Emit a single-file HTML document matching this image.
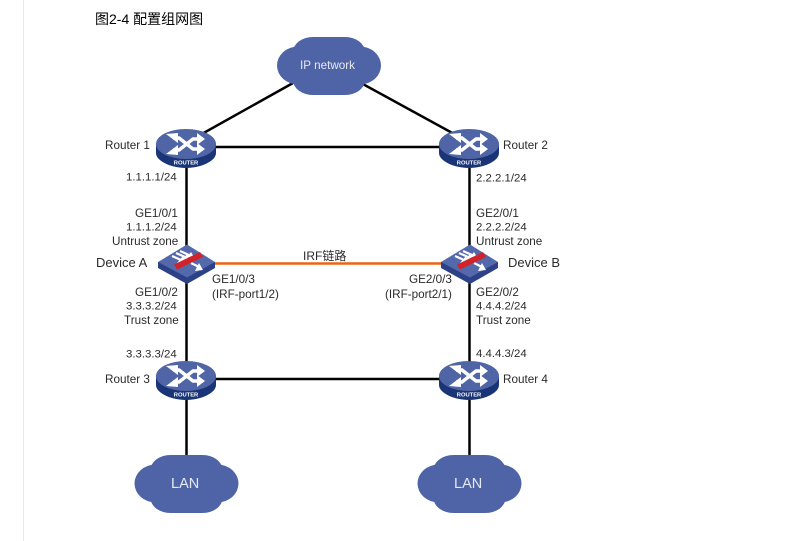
<!DOCTYPE html>
<html><head><meta charset="utf-8"><style>
html,body{margin:0;padding:0;background:#fff;width:800px;height:541px;overflow:hidden}
svg{display:block}
text{font-family:"Liberation Sans","Noto Sans CJK SC",sans-serif;font-size:11.700px;fill:#2a2a2a}
.n{font-size:11.400px}
.w{fill:#e6e9f2}
.r{font-size:5.800px;font-weight:bold;fill:#fff;text-anchor:middle}
</style></head><body>
<svg width="800" height="541" viewBox="0 0 800 541" xmlns="http://www.w3.org/2000/svg">
<defs>
<g id="router">
<path d="M-30 -2 V7 C-30 15 -15 22 0 22 C15 22 30 15 30 7 V-2 Z" fill="#1a3577"/>
<ellipse cx="0" cy="-2" rx="30" ry="15" fill="#4f65a6"/>
<g stroke="#fff" stroke-width="3.400" fill="none">
<path d="M-13 -8 L-7 -8 L7 3 L12 3"/>
<path d="M-13 4 L-7 4 L7 -7 L12 -7"/>
</g>
<g fill="#fff">
<path d="M-20 -12 L-8 -13 L-8 -3 Z"/>
<path d="M-20 8 L-8 9 L-8 -1 Z"/>
<path d="M19 -7 L11 -13 L11 -1 Z"/>
<path d="M19 3 L11 -3 L11 9 Z"/>
</g>
<text class="r" x="0" y="18.500">ROUTER</text>
</g>
<g id="switch">
<path d="M-29 0 L-29 6 L0 22 L28 6 L28 0 Z" fill="#2c4186"/>
<path d="M-29 0 L0 -17.500 L28 0 L0 15.500 Z" fill="#5369ac"/>
<g stroke="#fff" stroke-width="2.200" fill="none">
<path d="M-15 -6 L-6 -2"/><path d="M-11 -9 L-2 -5"/><path d="M-7 -11 L2 -7"/>
<path d="M4 1 L12 5"/>
</g>
<g fill="#fff">
<path d="M-4 -6 L-10 1 L-2 1 Z"/>
<path d="M0 -8 L-5 -2 L3 -2 Z"/>
<path d="M4 -10 L0 -5 L7 -5 Z"/>
<path d="M16 8 L8 9 L12 1 Z"/>
</g>
<path d="M-13 2.500 L13 -10 L16 -5 L-10 7.500 Z" fill="#d2232a"/>
</g>
<g id="cloud" fill="#4f64a6">
<ellipse cx="-31" cy="-0.500" rx="21" ry="19"/>
<ellipse cx="31" cy="-0.500" rx="21" ry="19"/>
<rect x="-36" y="-29" width="72" height="58" rx="20" ry="15"/>
</g>
</defs>

<rect x="23" y="0" width="1" height="541" fill="#e8e8e8"/>
<text x="95" y="24" style="font-size:14px;fill:#000">图2-4 配置组网图</text>

<g stroke="#000" stroke-width="2.500" fill="none">
<path d="M293 83 L200 135"/>
<path d="M361 83 L456 135"/>
<path d="M186 147 H469"/>
<path d="M186.500 147 V380"/>
<path d="M469.500 147 V380"/>
<path d="M186 379 H469"/>
<path d="M186.500 380 V462"/>
<path d="M469.500 380 V462"/>
</g>
<path d="M200 263.500 H455" stroke="#ee6414" stroke-width="2.600"/>

<use href="#cloud" x="329" y="66"/>
<use href="#cloud" x="186.500" y="484"/>
<use href="#cloud" x="469.500" y="484"/>
<use href="#router" x="186" y="146"/>
<use href="#router" x="469" y="146"/>
<use href="#router" x="186" y="378"/>
<use href="#router" x="469" y="378"/>
<use href="#switch" x="187" y="262"/>
<use href="#switch" x="470" y="262"/>

<text class="w" x="300" y="69">IP network</text>
<text class="w" x="171" y="488" style="font-size:14.500px">LAN</text>
<text class="w" x="454" y="488" style="font-size:14.500px">LAN</text>

<text x="105" y="149">Router 1</text>
<text x="503" y="149">Router 2</text>
<text x="105" y="383">Router 3</text>
<text x="503" y="383">Router 4</text>
<text class="n" x="126" y="180.500">1.1.1.1/24</text>
<text class="n" x="476" y="181.500">2.2.2.1/24</text>
<text x="135" y="217">GE1/0/1</text>
<text class="n" x="126" y="230.500">1.1.1.2/24</text>
<text x="112" y="245">Untrust zone</text>
<text x="476" y="217">GE2/0/1</text>
<text class="n" x="476" y="230.500">2.2.2.2/24</text>
<text x="476" y="245">Untrust zone</text>
<text x="96" y="267" style="font-size:13px">Device A</text>
<text x="508" y="267" style="font-size:13px">Device B</text>
<text x="303" y="260" style="font-size:12px">IRF链路</text>
<text x="212" y="283">GE1/0/3</text>
<text x="212" y="298">(IRF-port1/2)</text>
<text x="409" y="283">GE2/0/3</text>
<text x="385" y="298">(IRF-port2/1)</text>
<text x="135" y="296">GE1/0/2</text>
<text class="n" x="126" y="309.500">3.3.3.2/24</text>
<text x="124" y="324">Trust zone</text>
<text x="476" y="296">GE2/0/2</text>
<text class="n" x="476" y="309.500">4.4.4.2/24</text>
<text x="476" y="324">Trust zone</text>
<text class="n" x="126" y="357.500">3.3.3.3/24</text>
<text class="n" x="476" y="357">4.4.4.3/24</text>
</svg>
</body></html>
